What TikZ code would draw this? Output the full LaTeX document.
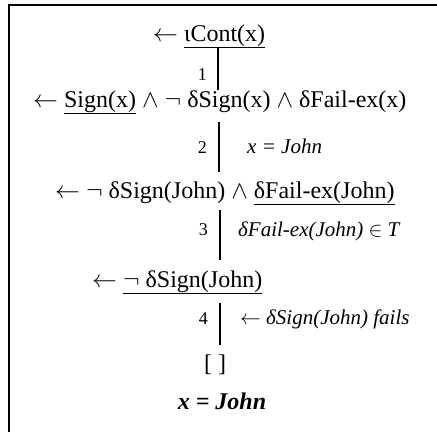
\documentclass[tikz,border=0pt]{standalone}
\usepackage{fontspec}
\setmainfont{Liberation Serif}
\newcommand{\ulx}[1]{\leavevmode\setbox0=\hbox{#1}\rlap{\rule[-7.2pt]{\wd0}{1.2pt}}\box0\relax}
\begin{document}
\begin{tikzpicture}[x=1pt,y=-1pt,
  goal/.style={inner sep=0pt,anchor=base west,font=\fontsize{24}{28}\selectfont},
  num/.style={inner sep=0pt,anchor=base east,font=\fontsize{18}{21}\selectfont},
  note/.style={inner sep=0pt,anchor=base west,font=\fontsize{21}{25}\selectfont\itshape},
  link/.style={line width=1.7pt},
  frame/.style={line width=2.6pt}]
\useasboundingbox (0,0) rectangle (437,432);
\draw[frame] (9,432) -- (9,5) -- (437,5);

\node[goal] (g1) at (153,41) {$\leftarrow$ \ulx{ιCont(x)}};
\node[goal] (g2) at (33,107) {$\leftarrow$ \ulx{Sign(x)} $\wedge$ $\neg$ δSign(x) $\wedge$ δFail-ex(x)};
\node[goal] (g3) at (55,198) {$\leftarrow$ $\neg$ δSign(John) $\wedge$ \ulx{δFail-ex(John)}};
\node[goal] (g4) at (92,287) {$\leftarrow$ \ulx{$\neg$ δSign(John)}};
\node[goal,anchor=base] (g5) at (215,371) {[ ]};
\node[goal,anchor=base,font=\fontsize{24}{28}\selectfont\bfseries\itshape] (ans) at (222,409) {x = John};

\coordinate (a1) at (218,48);  \coordinate (b1) at (218,90);
\coordinate (a2) at (219,122); \coordinate (b2) at (219,172);
\coordinate (a3) at (220,210); \coordinate (b3) at (220,260);
\coordinate (a4) at (220,303); \coordinate (b4) at (220,345);
\draw[link] (a1) -- (b1);
\draw[link] (a2) -- (b2);
\draw[link] (a3) -- (b3);
\draw[link] (a4) -- (b4);

\node[num] (n1) at (207,80) {1};
\node[num] (n2) at (207,153) {2};
\node[num] (n3) at (208,235) {3};
\node[num] (n4) at (208,324) {4};

\node[note] (t2) at (247,153) {x = John};
\node[note] (t3) at (238,236) {δFail-ex(John) $\in$ T};
\node[note] (t4) at (240,324) {$\leftarrow$ δSign(John) fails};
\end{tikzpicture}
\end{document}
